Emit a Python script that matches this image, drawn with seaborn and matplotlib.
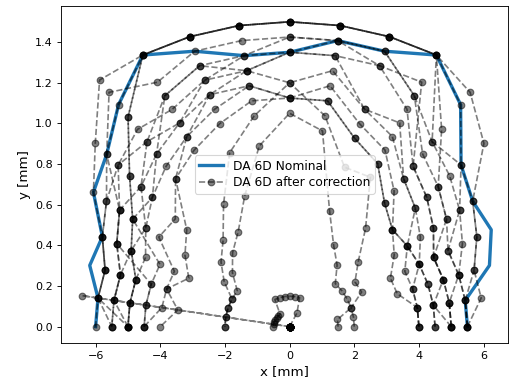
import numpy as np
import pandas as pd
import matplotlib
matplotlib.use("Agg")
import matplotlib.pyplot as plt
from matplotlib.lines import Line2D
import seaborn as sns

# Scan angles of the dynamic-aperture search (degrees) and beam sizes (mm)
ANGLES_DEG = [0, 9, 18, 27, 36, 45, 54, 63, 72, 81, 90,
              99, 108, 117, 126, 135, 144, 153, 162, 171, 180]
SIGMA_X = 0.5
SIGMA_Y = 0.075

# Nominal lattice: DA radius (in sigma) at each angle
nominal_r = [11, 11, 13, 14, 14, 15, 18, 20, 19, 19, 18,
             18, 19, 20, 18, 16, 15, 13, 13, 12, 12]

# Corrected seeds: DA radius (in sigma) at each angle
seed_o1 = [11, 11, 11, 11, 12, 13, 16, 20, 20, 20, 20, 20, 20, 20, 17, 14, 12, 11, 10, 10, 10]
seed_o2 = [11, 11, 12, 13, 14, 15, 18, 20, 20, 20, 20, 20, 20, 20, 17, 14, 12, 11, 10, 10, 10]
seed_o3 = [11, 12, 12, 13, 14, 17, 19, 20, 20, 20, 20, 20, 20, 20, 18, 16, 13, 12, 11, 11, 11]
seed_o4 = [11, 11, 11, 12, 13, 15, 15, 20, 20, 20, 20, 20, 20, 20, 20, 17, 15, 13, 12, 12, 12]
seed_p1 = [10, 10, 11, 11, 13, 14, 15, 17, 19, 19, 19, 18, 18, 17, 14, 12, 11, 11, 11, 11, 11]
seed_p2 = [10, 10, 10, 10, 12, 13, 14, 17, 19, 19, 18, 17, 18, 17, 15, 13, 11, 10, 10, 10, 10]
seed_p3 = [10, 10, 10, 10, 11, 12, 13, 18, 18, 19, 19, 19, 19, 18, 19, 16, 14, 13, 12, 12, 11]
seed_p4 = [10, 9, 10, 10, 11, 12, 13, 16, 18, 18, 18, 18, 17, 16, 16, 15, 13, 12, 11, 11, 10]
seed_q1 = [9, 9, 9, 9, 10, 11, 12, 15, 15, 18, 18, 17, 17, 15, 15, 15, 14, 13, 12, 12, 10]
seed_q2 = [9, 9, 9, 9, 9, 11, 12, 14, 15, 17, 16, 17, 16, 15, 14, 13, 13, 12, 9, 9, 9]
seed_q3 = [8, 8, 8, 9, 9, 9, 11, 13, 14, 16, 15, 16, 16, 14, 13, 12, 12, 9, 9, 9, 9]
seed_q4 = [8, 8, 8, 8, 9, 9, 10, 12, 13, 15, 15, 16, 15, 14, 12, 10, 10, 8, 8, 8, 9]
seed_q5 = [8, 8, 7, 7, 8, 9, 10, 12, 13, 15, 15, 15, 14, 13, 12, 9, 8, 7, 8, 7, 8]
seed_s1 = [3, 3, 4, 4, 4, 4, 5, 6, 8, 13, 14, 12, 9, 7, 6, 5, 4, 4, 4, 4, 4]
seed_s2 = [4, 4, 4, 5, 5, 6, 8, 11, 11, 14, 16, 14, 12, 9, 7, 6, 5, 4, 4, 4, 4]
seed_t = [0, 0, 0, 0, 0, 0, 0, 1, 2, 2, 2, 2, 2, 2, 1, 1, 1, 1, 1, 1, 1]
seed_z = [0, 0, 0, 0, 0, 0, 0, 0, 0, 0, 0, 0, 0, 0, 0, 0, 0, 0, 0, 13, 0]

seeds = [seed_o1, seed_o2, seed_o3, seed_o4, seed_p1, seed_p2, seed_p3, seed_p4,
         seed_q1, seed_q2, seed_q3, seed_q4, seed_q5, seed_s1, seed_s2, seed_t, seed_z]

theta = np.deg2rad(ANGLES_DEG)


def to_xy(radii):
    r = np.asarray(radii, dtype=float)
    return r * SIGMA_X * np.cos(theta), r * SIGMA_Y * np.sin(theta)


nx, ny = to_xy(nominal_r)
df_nom = pd.DataFrame({"x": nx, "y": ny})

rows = []
for i, s in enumerate(seeds):
    sx, sy = to_xy(s)
    rows.append(pd.DataFrame({"x": sx, "y": sy, "seed": i, "k": np.arange(len(s))}))
df_seeds = pd.concat(rows, ignore_index=True)

fig = plt.figure(figsize=(6.375, 4.8), dpi=80)
ax = fig.add_axes([0.119, 0.107, 0.878, 0.877])

sns.lineplot(data=df_nom, x="x", y="y", sort=False, estimator=None,
             color="#1f77b4", lw=3, ax=ax, legend=False)
sns.lineplot(data=df_seeds, x="x", y="y", units="seed", sort=False, estimator=None,
             color="black", linestyle="--", marker="o", markersize=6,
             markeredgecolor="black", markeredgewidth=1, lw=1.5, alpha=0.5,
             ax=ax, legend=False)

ax.set_xlim(-7.08, 6.77)
ax.set_ylim(-0.08, 1.577)
ax.set_xticks([-6, -4, -2, 0, 2, 4, 6])
ax.set_yticks([0.0, 0.2, 0.4, 0.6, 0.8, 1.0, 1.2, 1.4])
ax.set_xlabel("x [mm]", fontsize=12)
ax.set_ylabel("y [mm]", fontsize=12)

handles = [
    Line2D([], [], color="#1f77b4", lw=3),
    Line2D([], [], color="black", linestyle="--", marker="o", markersize=6,
           lw=1.5, alpha=0.5),
]
ax.legend(handles, ["DA 6D Nominal", "DA 6D after correction"], loc="center",
          fontsize=11, labelspacing=0.3, borderpad=0.35)

fig.savefig("out.png", dpi=80)
